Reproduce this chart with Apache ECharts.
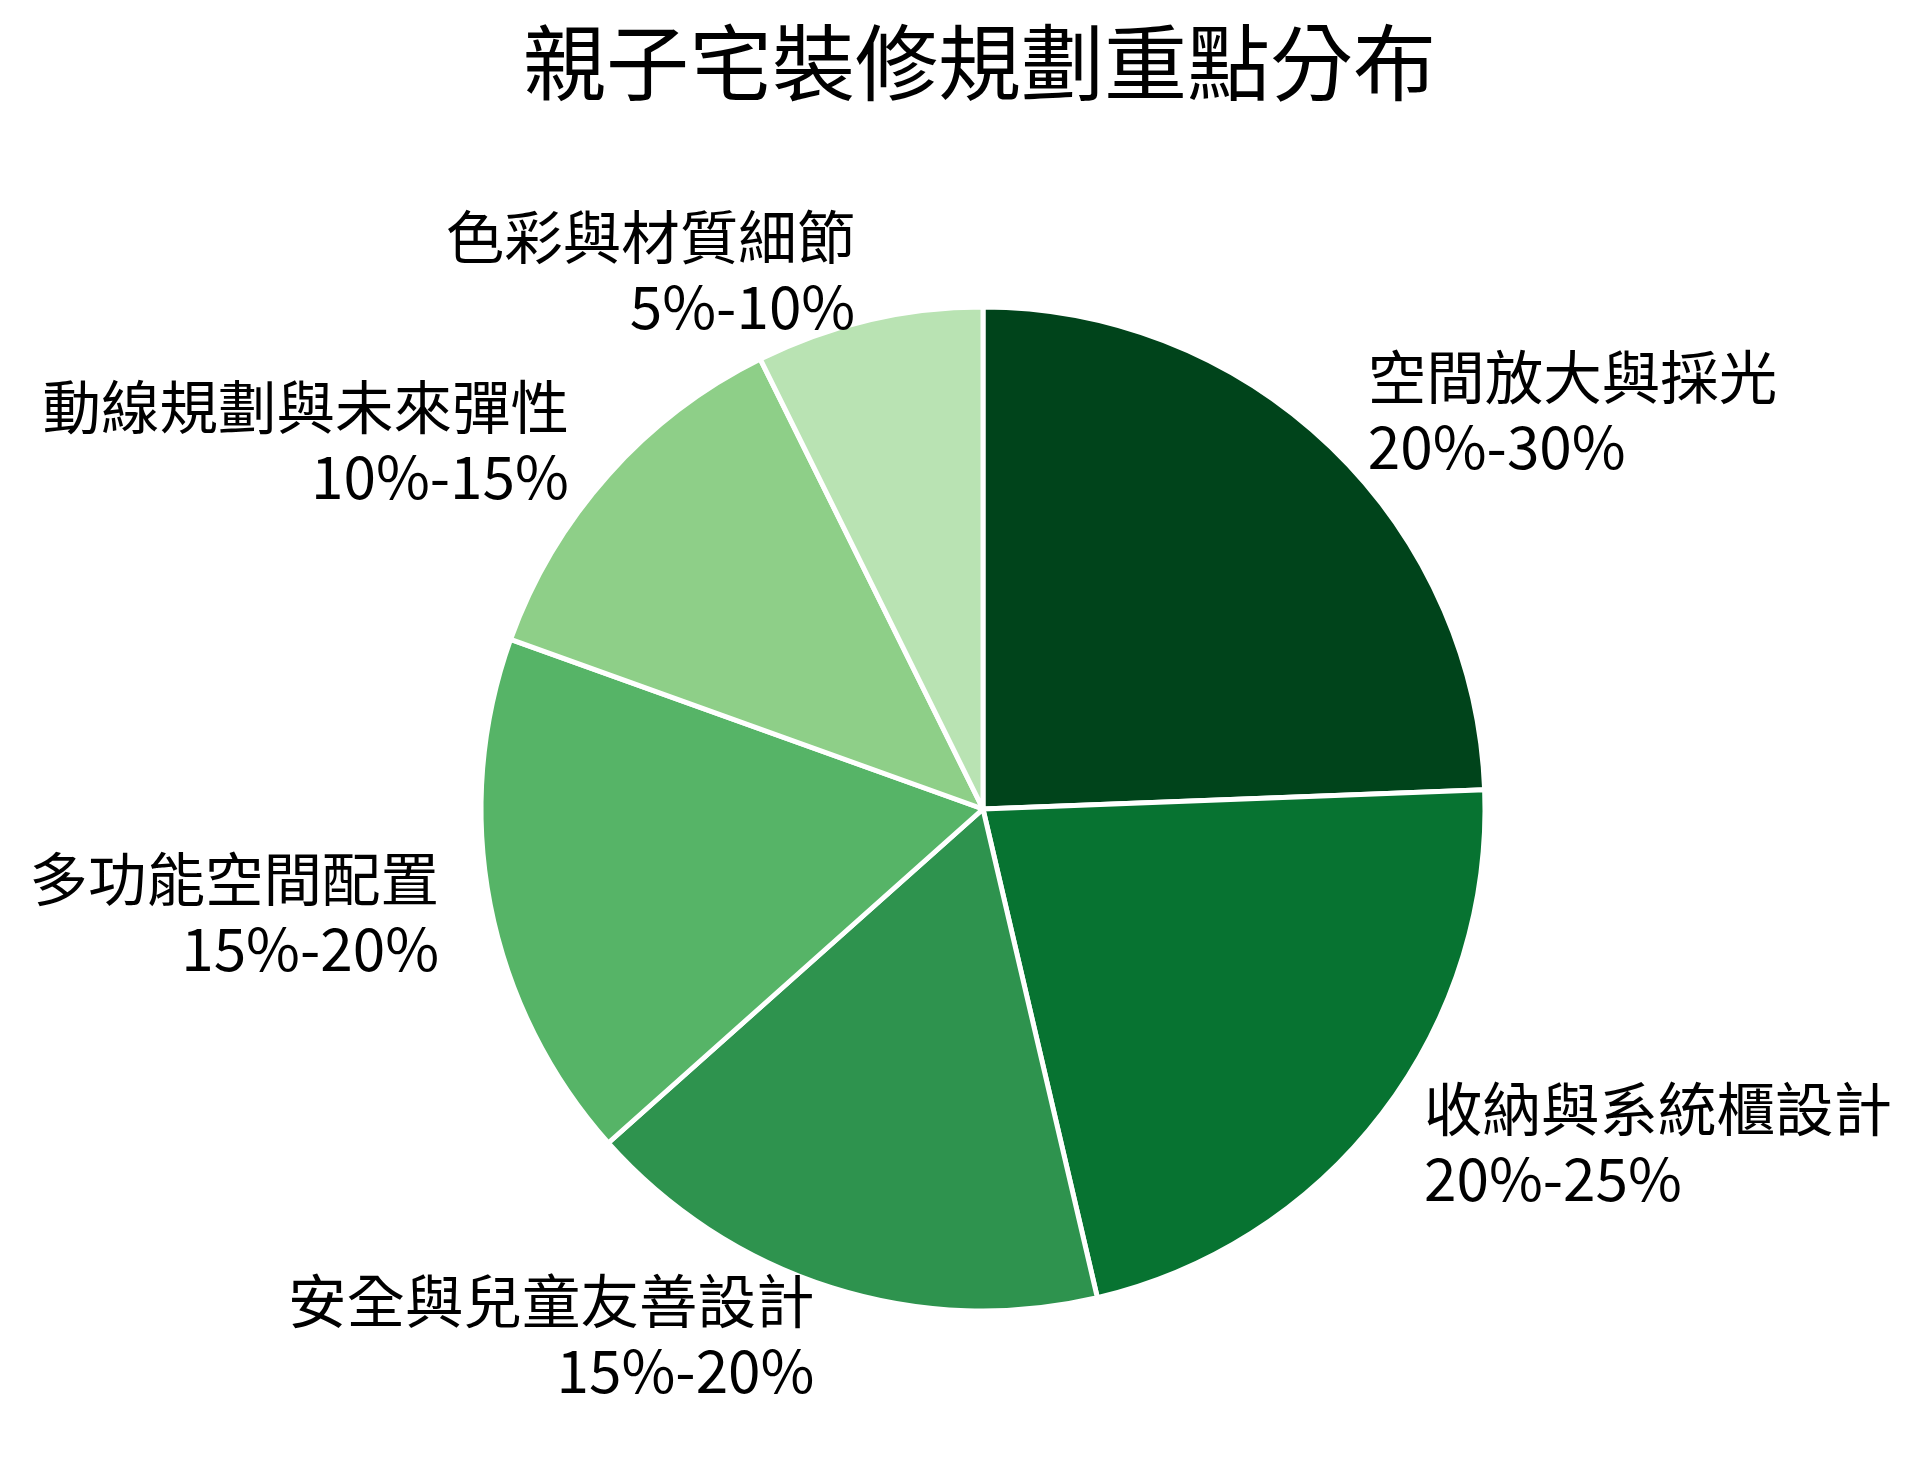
<!DOCTYPE html>
<html>
<head>
<meta charset="utf-8">
<script src="https://cdn.jsdelivr.net/npm/echarts@6/dist/echarts.min.js"></script>
<style>
html,body{margin:0;padding:0;background:#fff;}
#chart{width:1918px;height:1468px;}
</style>
</head>
<body>
<div id="chart"></div>
<script>
const titleText = '親子宅裝修規劃重點分布';
const categories = ['空間放大與採光', '收納與系統櫃設計', '安全與兒童友善設計', '多功能空間配置', '動線規劃與未來彈性', '色彩與材質細節'];
const values = [25, 22.5, 17.5, 17.5, 12.5, 7.5];
const rangeLabels = ['20%-30%', '20%-25%', '15%-20%', '15%-20%', '10%-15%', '5%-10%'];
const colors = ['#00441b', '#077331', '#2e934e', '#56b467', '#8ecf88', '#b9e3b3'];

const FONT = '"Noto Sans CJK TC", "Noto Sans CJK SC", sans-serif';
const chart = echarts.init(document.getElementById('chart'), null, {renderer: 'canvas'});
chart.setOption({
  backgroundColor: '#ffffff',
  animation: false,
  title: {
    text: titleText,
    left: 523,
    top: 21,
    padding: 0,
    textStyle: {fontFamily: FONT, fontSize: 83, fontWeight: 'normal', color: '#000'}
  },
  series: [{
    type: 'pie',
    center: [983, 809],
    radius: [0, 502],
    startAngle: 90,
    clockwise: true,
    avoidLabelOverlap: false,
    emphasis: {disabled: true},
    itemStyle: {borderColor: '#ffffff', borderWidth: 5},
    label: {
      show: true,
      position: 'outside',
      distanceToLabelLine: 2,
      fontFamily: FONT,
      fontSize: 58.5,
      lineHeight: 70,
      padding: [0, 0, 12, 0],
      color: '#000',
      formatter: p => p.name + '\n' + rangeLabels[p.dataIndex]
    },
    labelLine: {show: false, length: 50, length2: 0},
    data: categories.map((c, i) => ({name: c, value: values[i], itemStyle: {color: colors[i]}}))
  }]
});
</script>
</body>
</html>
